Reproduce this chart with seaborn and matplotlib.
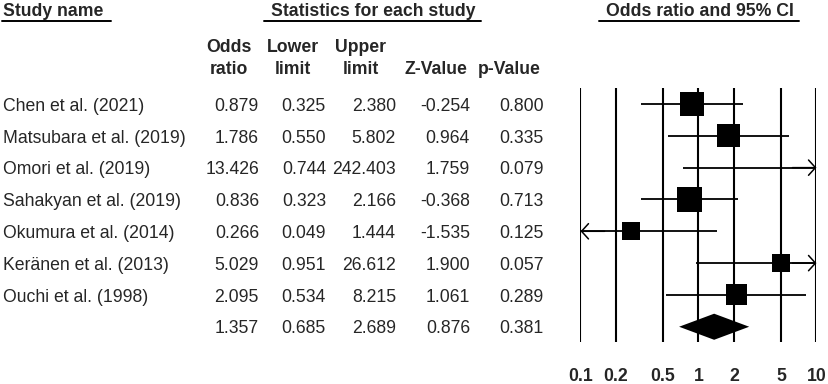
import matplotlib
matplotlib.use("Agg")
import matplotlib.pyplot as plt
import matplotlib.transforms as mtransforms
from matplotlib.lines import Line2D
import seaborn as sns
import pandas as pd

# study level data
studies = ["Chen et al. (2021)", "Matsubara et al. (2019)", "Omori et al. (2019)",
           "Sahakyan et al. (2019)", "Okumura et al. (2014)", "Keränen et al. (2013)",
           "Ouchi et al. (1998)"]
odds = [0.879, 1.786, 13.426, 0.836, 0.266, 5.029, 2.095]
lower = [0.325, 0.550, 0.744, 0.323, 0.049, 0.951, 0.534]
upper = [2.380, 5.802, 242.403, 2.166, 1.444, 26.612, 8.215]
zval = [-0.254, 0.964, 1.759, -0.368, -1.535, 1.900, 1.061]
pval = [0.800, 0.335, 0.079, 0.713, 0.125, 0.057, 0.289]
# relative weights, estimated from the square sizes
weights = [19.5, 17.8, 5.0, 21.1, 10.9, 10.9, 14.9]

# pooled estimate
pooled = dict(odds=1.357, lower=0.685, upper=2.689, z=0.876, p=0.381)

ticks = [0.1, 0.2, 0.5, 1, 2, 5, 10]
tick_labels = ["0.1", "0.2", "0.5", "1", "2", "5", "10"]

df = pd.DataFrame({"study": studies, "odds": odds, "lower": lower, "upper": upper,
                   "z": zval, "p": pval, "weight": weights})
df["row"] = range(len(df))
pooled_row = len(df)

W, H = 829, 384
sns.set_style("white")
plt.rcParams["font.family"] = ["Liberation Sans", "DejaVu Sans"]
FS = 12.7

fig = plt.figure(figsize=(W / 100, H / 100), dpi=100)
ax = fig.add_axes([580.5 / W, (H - 341.7) / H, 236 / W, 253.7 / H])
ax.set_xscale("log")
ax.set_xlim(0.1, 10)
ax.set_ylim(pooled_row + 0.47, -0.503)
ax.patch.set_alpha(0)
for s in ax.spines.values():
    s.set_visible(False)
ax.set_yticks([])
ax.minorticks_off()
ax.set_xticks(ticks)
ax.set_xticklabels(tick_labels, fontsize=FS, fontweight="bold")
ax.tick_params(axis="x", length=0, pad=19)
ax.set_xlabel("")
ax.set_ylabel("")

# reference lines
for t in ticks:
    ax.axvline(t, color="black", lw=1.5, zorder=1)

# confidence intervals, with arrows where they leave the scale
lo, hi = ax.get_xlim()
for _, r in df.iterrows():
    a = max(r["lower"], lo)
    b = min(r["upper"], hi)
    ax.hlines(r["row"], a, b, color="black", lw=1.3, zorder=2)
    if r["lower"] < lo:
        ax.annotate("", xy=(lo, r["row"]), xytext=(lo * 1.6, r["row"]),
                    arrowprops=dict(arrowstyle="->,head_length=0.5,head_width=0.55",
                                    color="black", lw=1.1, shrinkA=0, shrinkB=0,
                                    mutation_scale=10), annotation_clip=False)
    if r["upper"] > hi:
        ax.annotate("", xy=(hi, r["row"]), xytext=(hi / 1.6, r["row"]),
                    arrowprops=dict(arrowstyle="->,head_length=0.5,head_width=0.55",
                                    color="black", lw=1.1, shrinkA=0, shrinkB=0,
                                    mutation_scale=10), annotation_clip=False)

# study squares sized by weight
sns.scatterplot(data=df, x="odds", y="row", size="weight", sizes=(0, 324),
                size_norm=(0, max(weights)), marker="s", color="black",
                edgecolor="black", linewidth=0, legend=False, ax=ax, zorder=3)
ax.set_xlabel("")
ax.set_ylabel("")

# pooled diamond
h = 0.41
ax.fill([pooled["lower"], pooled["odds"], pooled["upper"], pooled["odds"]],
        [pooled_row, pooled_row - h, pooled_row, pooled_row + h],
        color="black", lw=0, zorder=3)

# table on the left
trans = mtransforms.blended_transform_factory(fig.transFigure, ax.transData)
base = 0.21
col_right = [259, 326, 396, 470, 544]
for _, r in df.iterrows():
    y = r["row"] + base
    ax.text(3 / W, y, r["study"], transform=trans, fontsize=FS, ha="left", va="baseline")
    vals = [r["odds"], r["lower"], r["upper"], r["z"], r["p"]]
    for xr, v in zip(col_right, vals):
        ax.text(xr / W, y, f"{v:.3f}", transform=trans, fontsize=FS, ha="right", va="baseline")
y = pooled_row + base
for xr, v in zip(col_right, [pooled["odds"], pooled["lower"], pooled["upper"], pooled["z"], pooled["p"]]):
    ax.text(xr / W, y, f"{v:.3f}", transform=trans, fontsize=FS, ha="right", va="baseline")

# headers
def ftext(px, py, s, ha="center"):
    fig.text(px / W, 1 - py / H, s, fontsize=FS, fontweight="bold", ha=ha, va="baseline")

def uline(x0, x1, py):
    fig.add_artist(Line2D([x0 / W, x1 / W], [1 - py / H, 1 - py / H],
                          transform=fig.transFigure, color="black", lw=1.4))

ftext(3, 16, "Study name", ha="left")
uline(2, 111, 20.7)
ftext(373, 16, "Statistics for each study")
uline(264, 481, 20.7)
ftext(699.5, 16, "Odds ratio and 95% CI")
uline(599, 799, 20.7)

head_x = [228.5, 292.5, 361, 435.5, 509]
head1 = ["Odds", "Lower", "Upper", "", ""]
head2 = ["ratio", "limit", "limit", "Z-Value", "p-Value"]
for x, a, b in zip(head_x, head1, head2):
    if a:
        ftext(x, 52.5, a)
    ftext(x, 74, b)

fig.savefig("out.png", dpi=100)
